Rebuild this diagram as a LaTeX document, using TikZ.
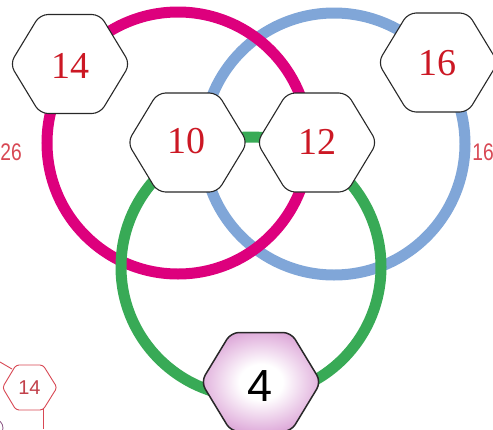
\documentclass[tikz,border=0pt]{standalone}
\usepackage{fontspec}
\newfontfamily\serifnum{Liberation Serif}
\newfontfamily\sansnum{Liberation Sans}
\definecolor{ringM}{RGB}{221,0,125}
\definecolor{ringB}{RGB}{128,166,216}
\definecolor{ringG}{RGB}{56,170,86}
\definecolor{numred}{RGB}{204,24,36}
\definecolor{sidered}{RGB}{216,72,84}
\definecolor{hexline}{RGB}{40,40,40}
\definecolor{purpA}{RGB}{226,180,222}
\definecolor{purpM}{RGB}{190,110,182}
\definecolor{purpB}{RGB}{150,44,136}
\pgfdeclareradialshading{hexshade}{\pgfpoint{0bp}{0bp}}{color(0bp)=(white); color(9bp)=(white); color(24bp)=(purpA); color(38bp)=(purpM); color(48bp)=(purpB); color(50bp)=(purpB)}
\newcommand\hexshape[4]{% x, y, half width, style
  \path[#4, shift={(#1,#2)}] (0,-49.5) -- (#3/2,-49.5) -- (#3,0) -- (#3/2,49.5) -- (-#3/2,49.5) -- (-#3,0) -- (-#3/2,-49.5) -- cycle;}
\tikzset{
  ring/.style={line width=11pt},
  hexbox/.style={draw=hexline, line width=1.1pt, fill=white, rounded corners=8pt},
  purphex/.style={draw=hexline, line width=1.5pt, shading=hexshade, rounded corners=8pt},
  numtext/.style={text=numred, font=\serifnum\fontsize{38}{38}\selectfont, inner sep=0pt},
  fourtext/.style={text=black, font=\sansnum\fontsize{45}{45}\selectfont, inner sep=0pt},
  sidetext/.style={text=sidered, font=\sansnum\fontsize{24}{24}\selectfont, inner sep=0pt},
  smallhex/.style={draw=sidered, line width=0.9pt, fill=white, rounded corners=3pt},
  smalltext/.style={text=sidered!90!black, font=\sansnum\fontsize{20}{20}\selectfont, inner sep=0pt},
}
\begin{document}
\begin{tikzpicture}[x=1pt,y=-1pt]
\useasboundingbox (0,0) rectangle (493,429);
\clip (0,0) rectangle (493,429);
\fill[white] (0,0) rectangle (493,429);
% rings
\draw[ring, draw=ringB] (334,144) circle[radius=131pt];
\draw[ring, draw=ringM] (178,143) circle[radius=131pt];
\draw[ring, draw=ringG] (251,267) circle[radius=130pt];
% hexagons
\hexshape{70}{64}{60}{hexbox}
\hexshape{187.5}{142.5}{60}{hexbox}
\hexshape{317}{142.5}{60}{hexbox}
\hexshape{438}{62.5}{60}{hexbox}
\hexshape{261}{382}{60}{purphex}
\node[numtext] (n14) at (70,66) {14};
\node[numtext] (n10) at (186.5,141.5) {10};
\node[numtext] (n12) at (317,141.5) {12};
\node[numtext] (n16) at (437,63.5) {16};
\node[fourtext] (n4) at (260,386) {4};
% neighbouring fragments
\node[sidetext, anchor=base east] (s26) at (22,160) {\scalebox{0.8}[1]{26}};
\node[sidetext, anchor=base east] (s16) at (494,160) {\scalebox{0.8}[1]{16}};
\coordinate (sA) at (0,362);
\coordinate (sB) at (43,429);
\draw[draw=sidered, line width=0.9pt] (12,369) -- (sA);
\draw[draw=sidered, line width=0.9pt] (43,409) -- (sB);
\path[smallhex] (30,365) -- (43,365) -- (57,387.5) -- (43,410) -- (16,410) -- (2.5,387.5) -- (16,365) -- cycle;
\node[smalltext] (s14) at (29.5,388) {14};
\draw[draw=purpB!50!gray, line width=0.8pt] (-6,428) circle[radius=9pt];
\end{tikzpicture}
\end{document}
